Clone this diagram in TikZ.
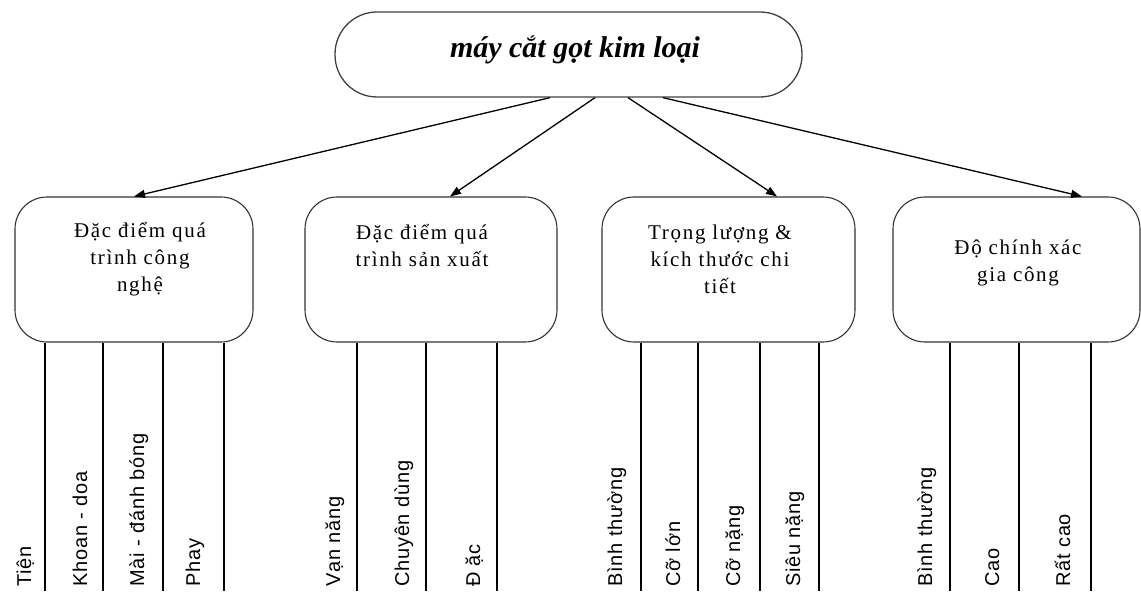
\documentclass[tikz,border=0pt]{standalone}
\usepackage{fontspec}
\setmainfont{Liberation Serif}
\newfontfamily\lblfont[LetterSpace=4]{Liberation Sans}
\newfontfamily\boxfont[LetterSpace=8]{Liberation Serif}
\usetikzlibrary{arrows.meta}
\begin{document}
\begin{tikzpicture}[x=1pt,y=-1pt,
  topbox/.style={draw=black!75, line width=1.3pt, rounded corners=42pt, minimum width=467pt, minimum height=85pt, inner sep=0pt},
  catbox/.style={draw=black!80, line width=1.1pt, rounded corners=32pt, minimum height=145pt, inner sep=0pt},
  cattext/.style={font=\boxfont\fontsize{21}{27}\selectfont, align=center, inner sep=0pt},
  arr/.style={line width=1.3pt, -{Triangle[length=11pt,width=8pt]}},
  stem/.style={line width=1.3pt},
  lbl/.style={font=\lblfont\fontsize{20}{24}\selectfont, rotate=90, anchor=base west, inner sep=0pt}]
\useasboundingbox (0,0) rectangle (1141,593);
% top node
\node[topbox] (top) at (568.5,54.5) {};
\node[font=\fontsize{30}{36}\selectfont\bfseries\itshape, inner sep=0pt] (toptxt) at (575,50) {máy cắt gọt kim loại};
% category boxes
\node[catbox, minimum width=238pt] (b1) at (134,269.5) {};
\node[catbox, minimum width=252pt] (b2) at (431,269.5) {};
\node[catbox, minimum width=253pt] (b3) at (728.5,269.5) {};
\node[catbox, minimum width=247pt] (b4) at (1016.5,269.5) {};
\node[cattext] (t1) at (140,259) {Đặc điểm quá\\trình công\\nghệ};
\node[cattext] (t2) at (422,245) {Đặc điểm quá\\trình sản xuất};
\node[cattext] (t3) at (720,259) {Trọng lượng \&\\kích thước chi\\tiết};
\node[cattext] (t4) at (1018,263) {Độ chính xác\\gia công};
% arrows
\draw[arr] ([xshift=-18.5pt]top.south) -- (b1.north);
\draw[arr] ([xshift=26.5pt]top.south) -- ([xshift=19pt]b2.north);
\draw[arr] ([xshift=59.5pt]top.south) -- ([xshift=48.5pt]b3.north);
\draw[arr] ([xshift=94.5pt]top.south) -- ([xshift=65.5pt]b4.north);
% stems
\foreach \dx in {-89,-31,29,90} \draw[stem] ([xshift=\dx pt]b1.south) -- ++(0,248);
\foreach \dx in {-74,-5,66} \draw[stem] ([xshift=\dx pt]b2.south) -- ++(0,248);
\foreach \dx in {-87.5,-30.5,31.5,90.5} \draw[stem] ([xshift=\dx pt]b3.south) -- ++(0,248);
\foreach \dx in {-66.5,2.5,74.5} \draw[stem] ([xshift=\dx pt]b4.south) -- ++(0,248);
% labels (baseline x positions)
\node[lbl] (l11) at (31,587) {Tiện};
\node[lbl] (l12) at (87,587) {Khoan - doa};
\node[lbl] (l13) at (144,587) {Mài - đánh bóng};
\node[lbl] (l14) at (200,587) {Phay};
\node[lbl] (l21) at (340,587) {Vạn năng};
\node[lbl] (l22) at (409,587) {Chuyên dùng};
\node[lbl] (l23) at (480,587) {Đ ặc};
\node[lbl] (l31) at (622,587) {Bình thường};
\node[lbl] (l32) at (680,587) {Cỡ lớn};
\node[lbl] (l33) at (740,587) {Cỡ nặng};
\node[lbl] (l34) at (800,587) {Siêu nặng};
\node[lbl] (l41) at (932,587) {Bình thường};
\node[lbl] (l42) at (999,587) {Cao};
\node[lbl] (l43) at (1070,587) {Rất cao};
\end{tikzpicture}
\end{document}
